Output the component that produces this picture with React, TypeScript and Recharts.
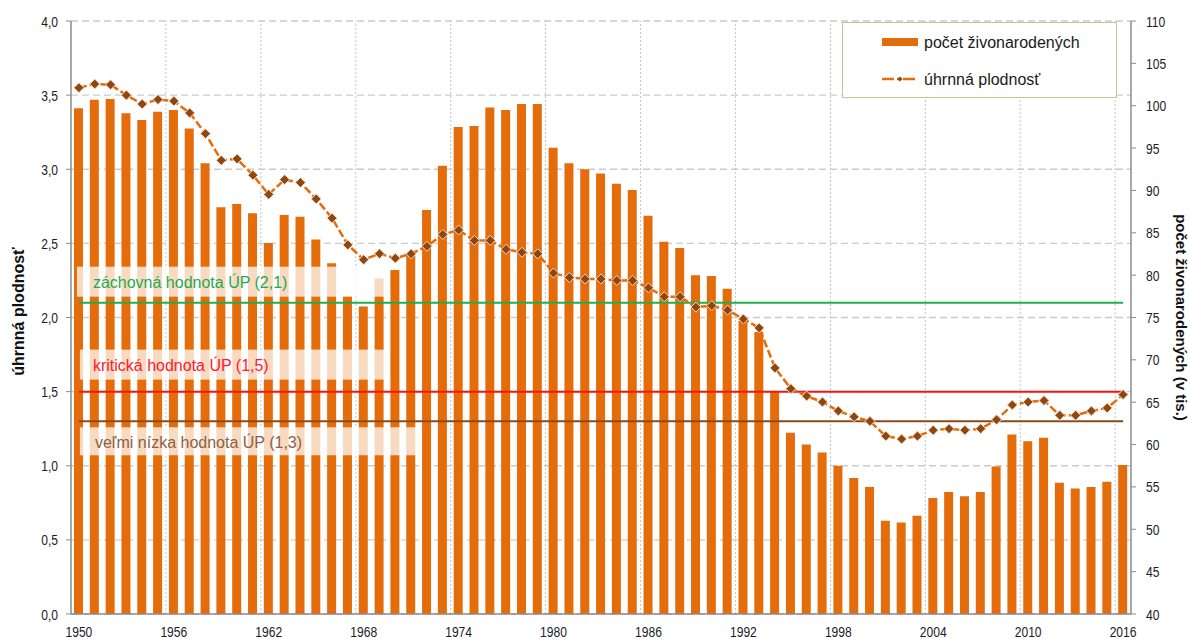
import React from 'react';
import { ComposedChart, Bar, Line, XAxis, YAxis, CartesianGrid, ReferenceLine } from 'recharts';

const years = ['1950','1951','1952','1953','1954','1955','1956','1957','1958','1959','1960','1961','1962','1963','1964','1965','1966','1967','1968','1969','1970','1971','1972','1973','1974','1975','1976','1977','1978','1979','1980','1981','1982','1983','1984','1985','1986','1987','1988','1989','1990','1991','1992','1993','1994','1995','1996','1997','1998','1999','2000','2001','2002','2003','2004','2005','2006','2007','2008','2009','2010','2011','2012','2013','2014','2015','2016'];

// počet živonarodených (v tis.)
const births = [99.7,100.7,100.8,99.1,98.3,99.3,99.5,97.3,93.2,88.0,88.4,87.3,83.8,87.1,86.9,84.2,81.4,77.5,76.3,79.6,80.6,82.4,87.7,92.9,97.5,97.6,99.8,99.5,100.2,100.2,95.05,93.2,92.5,92.0,90.8,90.05,87.0,83.95,83.2,80.0,79.9,78.4,74.6,73.3,66.3,61.4,60.0,59.05,57.5,56.05,55.0,51.0,50.8,51.6,53.7,54.4,53.9,54.4,57.4,61.2,60.4,60.8,55.5,54.8,55.0,55.6,57.6];

// úhrnná plodnosť
const tfr = [3.55,3.575,3.57,3.5,3.44,3.47,3.46,3.38,3.24,3.06,3.07,2.96,2.83,2.93,2.91,2.8,2.67,2.49,2.39,2.43,2.4,2.43,2.48,2.56,2.59,2.52,2.52,2.46,2.44,2.43,2.3,2.27,2.26,2.26,2.25,2.25,2.2,2.14,2.14,2.07,2.08,2.05,1.99,1.93,1.66,1.52,1.47,1.43,1.37,1.33,1.3,1.2,1.18,1.2,1.24,1.25,1.24,1.25,1.31,1.41,1.43,1.44,1.34,1.34,1.37,1.39,1.48];

const leftTicks = [0, 0.5, 1, 1.5, 2, 2.5, 3, 3.5, 4];
const rightTicks = [40, 45, 50, 55, 60, 65, 70, 75, 80, 85, 90, 95, 100, 105, 110];
const gridYears = [1956, 1962, 1968, 1974, 1980, 1986, 1992, 1998, 2004, 2010, 2016];

const thresholdValues = [2.1, 1.5, 1.3];
const thresholdLabels = ['záchovná hodnota ÚP (2,1)', 'kritická hodnota ÚP (1,5)', 'veľmi nízka hodnota ÚP (1,3)'];

const seriesNames = ['počet živonarodených', 'úhrnná plodnosť'];
const leftTitle = 'úhrnná plodnosť';
const rightTitle = 'počet živonarodených (v tis.)';

const data = years.map((y, i) => ({ year: y, yearNum: Number(y), births: births[i], tfr: tfr[i] }));

const ORANGE = '#E46C0A';
const DARK = '#8E4712';
const FONT = "'Liberation Sans', Arial, sans-serif";
const TICK_COLOR = '#1c1c28';

const Diamond = (p: any) => {
  const { cx, cy, index } = p;
  if (cx == null || cy == null) return <g key={index} />;
  const r = 5;
  return (
    <polygon
      key={index}
      points={`${cx},${cy - r} ${cx + r},${cy} ${cx},${cy + r} ${cx - r},${cy}`}
      fill={DARK}
      stroke="#f7dcc4"
      strokeWidth={1}
    />
  );
};

// condensed tick text
const NarrowText = ({ x, y, anchor, children }: any) => (
  <text
    transform={`translate(${x} ${y}) scale(0.78 1)`}
    textAnchor={anchor}
    fontFamily={FONT}
    fontSize={15.5}
    fill={TICK_COLOR}
  >
    {children}
  </text>
);

const fmtLeft = (v: number) => v.toFixed(1).replace('.', ',');

const LeftTick = (p: any) => (
  <NarrowText x={p.x} y={p.y + 5.5} anchor="end">{fmtLeft(p.payload.value)}</NarrowText>
);
const RightTick = (p: any) => (
  <NarrowText x={p.x} y={p.y + 5.5} anchor="start">{String(p.payload.value)}</NarrowText>
);
const BottomTick = (p: any) => (
  <NarrowText x={p.x} y={p.y + 10} anchor="middle">{String(p.payload.value)}</NarrowText>
);

const lineColors = ['#22AD4E', '#FF1010', '#8B4A1E'];
const textColors = ['#1FAA4C', '#FF1A2E', '#8E6048'];
// box layout relative to the line: [dxStart, boxTop, boxBottom, boxWidth, textDx, textDy]
const boxLayout = [
  [-2, -36, -6, 310, 14, -20],
  [1, -42, -12, 307, 14, -26],
  [1, 6, 34, 336, 16, 21],
];

const makeLabel = (i: number) => (props: any) => {
  const vb = props.viewBox || {};
  const x = vb.x ?? 0;
  const y = vb.y ?? 0;
  const [dx, t, b, w, tdx, tdy] = boxLayout[i];
  return (
    <g>
      <rect x={x + dx} y={y + t} width={w} height={b - t} fill="#ffffff" fillOpacity={0.75} />
      <text x={x + tdx} y={y + tdy} dominantBaseline="central" fontFamily={FONT} fontSize={16} fill={textColors[i]}>
        {thresholdLabels[i]}
      </text>
    </g>
  );
};

const LegendBox = () => (
  <div
    style={{
      position: 'absolute',
      left: 842,
      top: 22,
      width: 275,
      height: 76,
      boxSizing: 'border-box',
      border: '1.5px solid #C9C19C',
      background: '#fff',
    }}
  >
    <svg width={273} height={74} style={{ position: 'absolute', left: 0, top: 0 }}>
      <rect x={39} y={15} width={36} height={8} fill={ORANGE} />
      <line x1={39} x2={75} y1={56} y2={56} stroke={ORANGE} strokeWidth={2.5} strokeDasharray="12 3 3 3" />
      <polygon points="57,53.5 59.5,56 57,58.5 54.5,56" fill={DARK} />
      <text x={81} y={19} dominantBaseline="central" fontFamily={FONT} fontSize={16} fill="#1a1a1a">{seriesNames[0]}</text>
      <text x={81} y={56} dominantBaseline="central" fontFamily={FONT} fontSize={16} fill="#1a1a1a">{seriesNames[1]}</text>
    </svg>
  </div>
);

export default function App() {
  return (
    <div style={{ position: 'absolute', left: 0, top: 0, width: 1190, height: 639, background: '#fff', overflow: 'hidden' }}>
      <ComposedChart width={1190} height={639} data={data} margin={{ top: 21, right: 0, bottom: 0, left: 0 }}>
        <XAxis
          xAxisId="year"
          dataKey="year"
          type="category"
          interval={5}
          height={25}
          tickLine={false}
          axisLine={{ stroke: '#8c8c8c', strokeWidth: 1.5 }}
          tickSize={5}
          tickMargin={8}
          tick={<BottomTick />}
        />
        <XAxis xAxisId="grid" type="number" dataKey="yearNum" domain={[1950, 2017]} hide height={0} allowDataOverflow />
        <YAxis
          yAxisId="left"
          orientation="left"
          width={71}
          domain={[0, 4]}
          ticks={leftTicks}
          axisLine={{ stroke: '#8c8c8c', strokeWidth: 1.5 }}
          tickLine={{ stroke: '#8c8c8c' }}
          tickSize={5}
          tickMargin={8}
          tick={<LeftTick />}
          label={{
            content: (p: any) => {
              const vb = p.viewBox || { x: 0, y: 21, width: 71, height: 593 };
              const cx = vb.x + 18;
              const cy = vb.y + vb.height / 2 - 6;
              return (
                <text x={cx} y={cy} transform={`rotate(-90 ${cx} ${cy})`} textAnchor="middle" dominantBaseline="central" fontFamily={FONT} fontWeight="bold" fontSize={16} fill="#111">
                  {leftTitle}
                </text>
              );
            },
          }}
        />
        <YAxis
          yAxisId="right"
          orientation="right"
          width={59}
          domain={[40, 110]}
          ticks={rightTicks}
          axisLine={{ stroke: '#8c8c8c', strokeWidth: 1.5 }}
          tickLine={{ stroke: '#8c8c8c' }}
          tickSize={5}
          tickMargin={10}
          tick={<RightTick />}
          label={{
            content: (p: any) => {
              const vb = p.viewBox || { x: 1131, y: 21, width: 59, height: 593 };
              const cx = vb.x + 50;
              const cy = vb.y + vb.height / 2;
              return (
                <text x={cx} y={cy} transform={`rotate(90 ${cx} ${cy})`} textAnchor="middle" dominantBaseline="central" fontFamily={FONT} fontWeight="bold" fontSize={15} fill="#111">
                  {rightTitle}
                </text>
              );
            },
          }}
        />
        <CartesianGrid xAxisId="year" yAxisId="left" vertical={false} stroke="#cccccc" strokeWidth={1.3} strokeDasharray="7 4" />
        {gridYears.map((g) => (
          <ReferenceLine key={g} xAxisId="grid" yAxisId="left" x={g} stroke="#c4c4c4" strokeDasharray="2 2" />
        ))}
        <Bar xAxisId="year" yAxisId="right" dataKey="births" fill={ORANGE} barSize={9} isAnimationActive={false} />
        {thresholdValues.map((v, i) => (
          <ReferenceLine
            key={v}
            xAxisId="year"
            yAxisId="left"
            segment={[{ x: years[0], y: v }, { x: years[years.length - 1], y: v }]}
            stroke={lineColors[i]}
            strokeWidth={2}
            label={{ content: makeLabel(i) }}
          />
        ))}
        <Line
          xAxisId="year"
          yAxisId="left"
          dataKey="tfr"
          stroke={ORANGE}
          strokeWidth={2.5}
          strokeDasharray="8 3"
          dot={Diamond}
          activeDot={false}
          isAnimationActive={false}
        />
      </ComposedChart>
      <LegendBox />
    </div>
  );
}
